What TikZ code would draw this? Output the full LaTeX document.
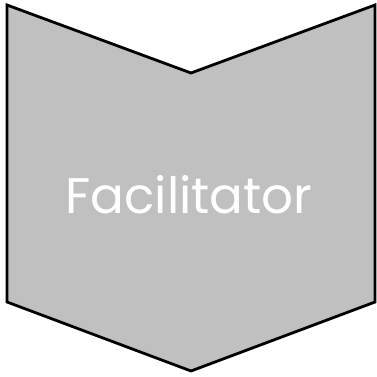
\documentclass[tikz,border=0pt]{standalone}
\usepackage{fontspec}
\setmainfont{Poppins}
\definecolor{chevfill}{RGB}{192,192,192}
\begin{document}
\begin{tikzpicture}[x=1pt,y=-1pt,
  chev/.style={fill=chevfill,draw=black,line width=2.8pt,line join=miter},
  label/.style={text=white,font=\fontsize{50}{55}\selectfont,inner sep=0pt}]
\useasboundingbox (0,0) rectangle (376,377);
\draw[chev] (7,5) -- (191,73) -- (375,5) -- (375,302) -- (191,371) -- (7,302) -- cycle;
\node[label] (t) at (189,195) {Facilitator};
\end{tikzpicture}
\end{document}
